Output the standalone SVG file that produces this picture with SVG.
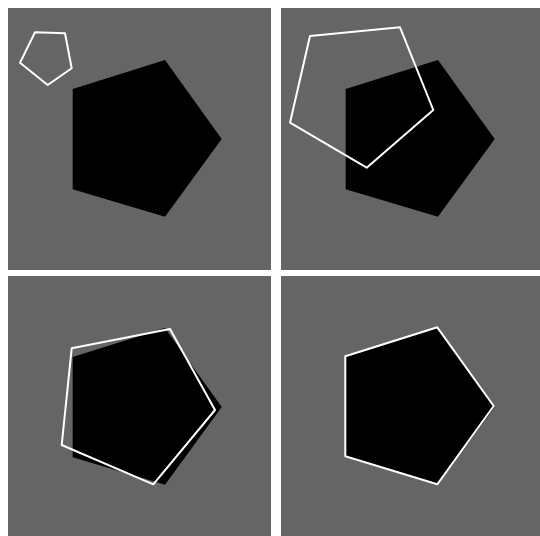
<svg xmlns="http://www.w3.org/2000/svg" width="540" height="536" viewBox="0 0 540 536">
  <style>
    .panel { fill: #656565; }
    .target { fill: #000000; }
    .outline { fill: none; stroke: #ffffff; stroke-width: 2; stroke-linejoin: round; }
  </style>
  <rect x="0" y="0" width="540" height="536" fill="#ffffff"/>
  <g id="panel1">
    <rect class="panel" x="8" y="8" width="263" height="262"/>
    <polygon class="target" points="165,60 221.7,139 165,216.7 72.7,189.3 72.7,89"/>
    <polygon class="outline" points="35,32.3 65,33.3 71.7,68.3 47.7,85 20,62.7"/>
  </g>
  <g id="panel2">
    <rect class="panel" x="281" y="8" width="259" height="262"/>
    <polygon class="target" points="438,60 494.7,139 438,216.7 345.7,189.3 345.7,89"/>
    <polygon class="outline" points="310,36 400,27.3 433.3,110 366.7,167.7 290,122.7"/>
  </g>
  <g id="panel3">
    <rect class="panel" x="8" y="276" width="263" height="260"/>
    <polygon class="target" points="165,328 221.7,407 165,484.7 72.7,457.3 72.7,357"/>
    <polygon class="outline" points="71.7,348.3 170,329 215,410 153.3,484.3 61.7,445"/>
  </g>
  <g id="panel4">
    <rect class="panel" x="281" y="276" width="259" height="260"/>
    <polygon class="target" points="438,328 494.7,407 438,484.7 345.7,457.3 345.7,357"/>
    <polygon class="outline" points="345.3,356.3 437.3,327.3 493.7,406 437.3,484.3 345.3,456.3"/>
  </g>
</svg>
